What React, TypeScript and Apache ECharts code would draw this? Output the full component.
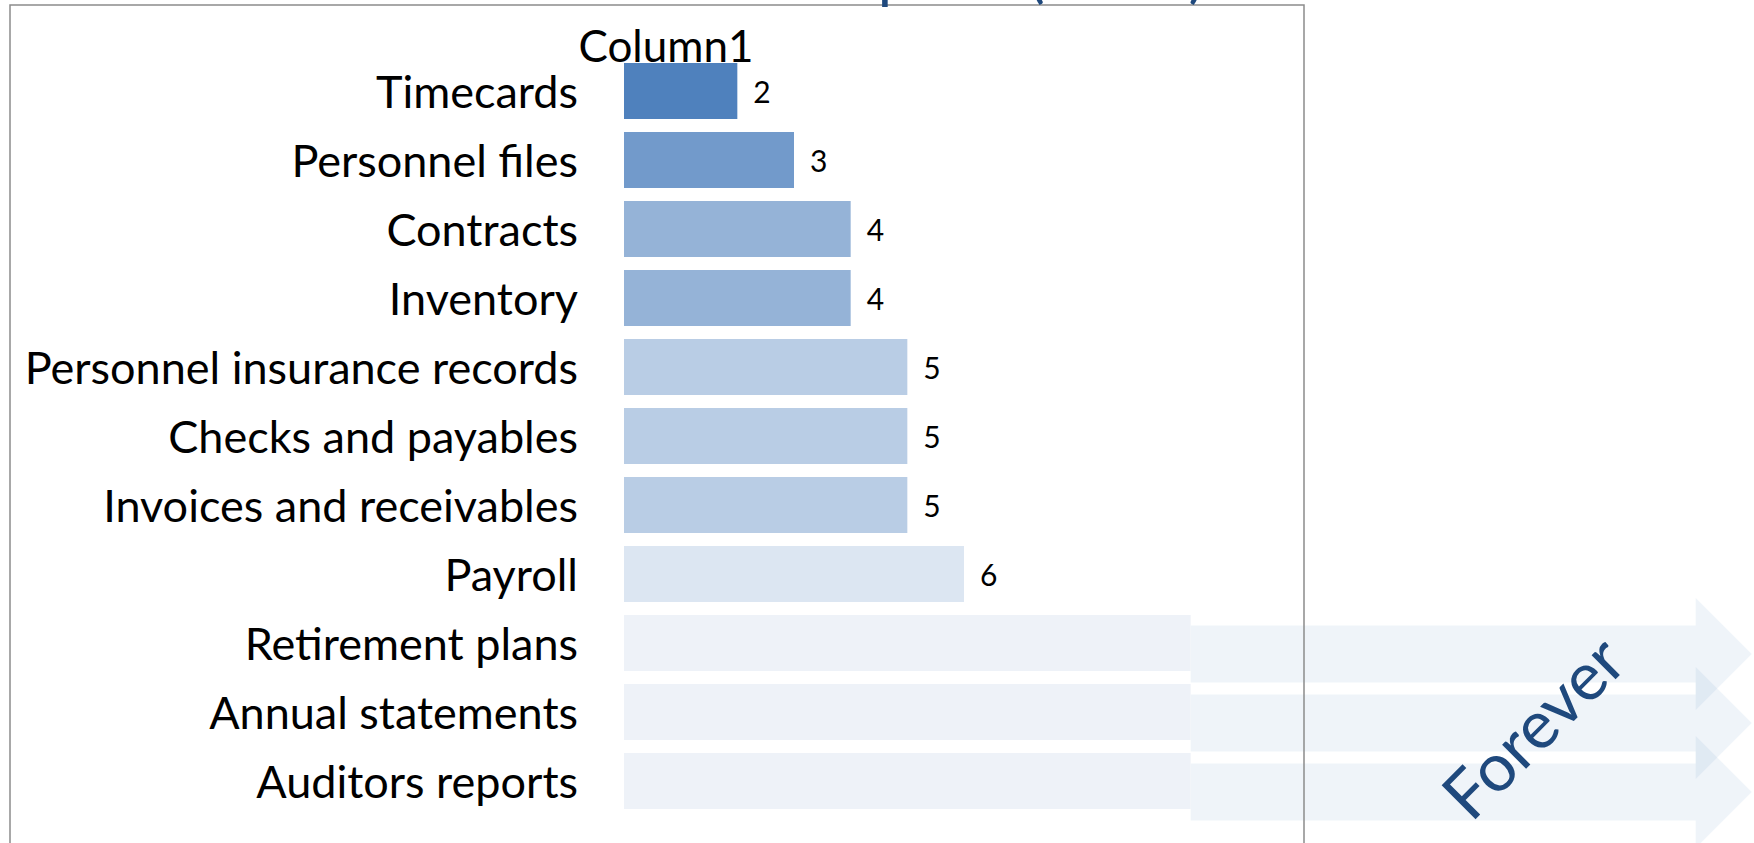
import React, { useEffect, useRef } from "react";
import * as echarts from "echarts";

const categories = [
  "Timecards",
  "Personnel files",
  "Contracts",
  "Inventory",
  "Personnel insurance records",
  "Checks and payables",
  "Invoices and receivables",
  "Payroll",
  "Retirement plans",
  "Annual statements",
  "Auditors reports",
];
const values = [2, 3, 4, 4, 5, 5, 5, 6, 10, 10, 10];
const barColors = [
  "#4F81BD",
  "#729ACB",
  "#95B3D7",
  "#95B3D7",
  "#B9CDE5",
  "#B9CDE5",
  "#B9CDE5",
  "#DCE6F2",
  "#EEF2F8",
  "#EEF2F8",
  "#EEF2F8",
];
const showValueLabel = [true, true, true, true, true, true, true, true, false, false, false];
const foreverRows = ["Retirement plans", "Annual statements", "Auditors reports"];
const foreverValue = 10;
const axisMax = 12;
const seriesName = "Column1";
const foreverText = "Forever";
const titleText = "Document Retention Template (Years)";

const FONT = "Lato, 'Open Sans', sans-serif";

export default function App() {
  const ref = useRef<HTMLDivElement>(null);
  useEffect(() => {
    if (!ref.current) return;
    const chart = echarts.init(ref.current, null, { renderer: "svg" });
    const option: any = {
      animation: false,
      grid: { left: 624, top: 56.5, width: 680, height: 759, containLabel: false },
      xAxis: { type: "value", min: 0, max: axisMax, show: false },
      yAxis: {
        type: "category",
        data: categories,
        inverse: true,
        axisLine: { show: false },
        axisTick: { show: false },
        splitLine: { show: false },
        axisLabel: { fontSize: 45, fontFamily: FONT, color: "#000", margin: 46 },
      },
      series: [
        {
          name: seriesName,
          type: "bar",
          barWidth: 56,
          z: 3,
          data: values.map((v, i) => ({
            value: v,
            itemStyle: { color: barColors[i] },
            label: { show: showValueLabel[i] },
          })),
          label: {
            show: true,
            position: "right",
            distance: 16,
            fontSize: 30,
            fontFamily: FONT,
            color: "#000",
          },
        },
      ],
    };
    chart.setOption(option);

    const x0 = chart.convertToPixel({ xAxisIndex: 0 }, foreverValue) as number;
    const arrows = foreverRows.map((c) => {
      const cy = (chart.convertToPixel({ yAxisIndex: 0 }, c) as number) + 11;
      const xb = x0 + 505;
      const xt = xb + 56;
      return {
        type: "polygon",
        z: 1,
        shape: {
          points: [
            [x0, cy - 28.5],
            [xb, cy - 28.5],
            [xb, cy - 56],
            [xt, cy],
            [xb, cy + 56],
            [xb, cy + 28.5],
            [x0, cy + 28.5],
          ],
        },
        style: { fill: "rgba(79,129,189,0.09)" },
      };
    });

    chart.setOption({
      graphic: [
        ...arrows,
        {
          type: "rect",
          z: 10,
          shape: { x: 10, y: 5, width: 1294, height: 900 },
          style: { fill: "none", stroke: "#8C8C8C", lineWidth: 1.5 },
        },
        {
          type: "text",
          z: 10,
          x: 1205,
          y: -28,
          style: {
            text: titleText,
            fontSize: 62,
            fontFamily: FONT,
            fill: "#1F497D",
            align: "right",
            verticalAlign: "middle",
          },
        },
        {
          type: "text",
          z: 10,
          x: 666,
          y: 45,
          style: {
            text: seriesName,
            fontSize: 44,
            fontFamily: FONT,
            fill: "#000",
            align: "center",
            verticalAlign: "middle",
          },
        },
        {
          type: "text",
          z: 10,
          x: 1532,
          y: 726,
          rotation: Math.PI / 4,
          style: {
            text: foreverText,
            fontSize: 67,
            fontFamily: FONT,
            fill: "#1F497D",
            align: "center",
            verticalAlign: "middle",
          },
        },
      ],
    });

    return () => chart.dispose();
  }, []);
  return (
    <div
      ref={ref}
      style={{ position: "absolute", left: 0, top: 0, width: 1754, height: 843 }}
    />
  );
}
